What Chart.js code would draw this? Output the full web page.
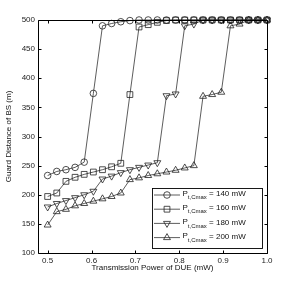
<!DOCTYPE html>
<html>
<head>
<meta charset="utf-8">
<script src="https://cdn.jsdelivr.net/npm/chart.js@4/dist/chart.umd.min.js"></script>
<style>
  html, body { margin: 0; padding: 0; background: #fff; }
  canvas { display: block; }
</style>
</head>
<body>
<canvas id="c" width="295" height="284"></canvas>
<script>
// ---- data ----
const xValues = [0.5000,0.5208,0.5417,0.5625,0.5833,0.6042,0.6250,0.6458,0.6667,0.6875,0.7083,0.7292,0.7500,
                 0.7708,0.7917,0.8125,0.8333,0.8542,0.8750,0.8958,0.9167,0.9375,0.9583,0.9792,1.0000];
const p140 = [233,240,243,247,256,374,490,494,497,499,500,500,500,500,500,500,500,500,500,500,500,500,500,500,500];
const p160 = [197,203,223,230,235,239,243,248,254,372,488,492,496,499,500,500,500,500,500,500,500,500,500,500,500];
const p180 = [179,185,190,195,200,206,227,232,238,243,247,251,255,370,373,490,493,500,500,500,500,500,500,500,500];
const p200 = [148,171,175,181,185,189,193,197,203,226,229,233,236,239,242,246,250,369,372,376,490,493,500,500,500];
const seriesValues = ['140 mW','160 mW','180 mW','200 mW'];
const xTicks = [0.5,0.6,0.7,0.8,0.9,1.0];
const yTicks = [100,150,200,250,300,350,400,450,500];
const xTitle = 'Transmission Power of DUE (mW)';
const yTitle = 'Guard Distance of BS (m)';

const FONT = "'Liberation Sans', Arial, Helvetica, sans-serif";
const styles = [
  {pointStyle:'circle', radius:3.3, rot:0},
  {pointStyle:'rect', radius:4.1, rot:0},
  {pointStyle:'triangle', radius:4.0, rot:180},
  {pointStyle:'triangle', radius:4.0, rot:0}
];
const allSeries = [p140, p160, p180, p200];

const datasets = allSeries.map((vals, i) => ({
  label: seriesValues[i],
  data: xValues.map((x, k) => ({x: x, y: vals[k]})),
  borderColor: '#333',
  borderWidth: 0.8,
  pointStyle: styles[i].pointStyle,
  pointRadius: styles[i].radius,
  pointRotation: styles[i].rot,
  pointBorderColor: '#222',
  pointBorderWidth: 0.8,
  pointBackgroundColor: 'rgba(0,0,0,0)',
  tension: 0,
  clip: false
}));

const framePlugin = {
  id: 'frame',
  afterDraw(chart) {
    const ctx = chart.ctx;
    const a = chart.chartArea;
    const xs = chart.scales.x, ys = chart.scales.y;
    ctx.save();
    ctx.strokeStyle = '#000';
    ctx.lineWidth = 1;
    const L = Math.round(a.left) + 0.5, R = Math.round(a.right) + 0.5;
    const T = Math.round(a.top) + 0.5, B = Math.round(a.bottom) + 0.5;
    ctx.beginPath();
    ctx.rect(L, T, R - L, B - T);
    ctx.stroke();
    const tl = 3;
    ctx.beginPath();
    xTicks.forEach(v => {
      const px = Math.round(xs.getPixelForValue(v)) + 0.5;
      ctx.moveTo(px, B); ctx.lineTo(px, B - tl);
      ctx.moveTo(px, T); ctx.lineTo(px, T + tl);
    });
    yTicks.forEach(v => {
      const py = Math.round(ys.getPixelForValue(v)) + 0.5;
      ctx.moveTo(L, py); ctx.lineTo(L + tl, py);
      ctx.moveTo(R, py); ctx.lineTo(R - tl, py);
    });
    ctx.stroke();

    // legend
    const bx = 152, by = 188, bw = 110, bh = 60;
    ctx.fillStyle = '#fff';
    ctx.fillRect(bx, by, bw, bh);
    ctx.lineWidth = 0.9;
    ctx.strokeStyle = '#000';
    ctx.strokeRect(bx + 0.5, by + 0.5, bw, bh);
    const rows = [195, 209.2, 223.4, 237.6];
    rows.forEach((ry, i) => {
      ctx.strokeStyle = '#333';
      ctx.lineWidth = 0.8;
      ctx.beginPath();
      ctx.moveTo(154, ry); ctx.lineTo(180, ry);
      ctx.stroke();
      const mx = 167, st = styles[i];
      ctx.strokeStyle = '#222';
      ctx.beginPath();
      if (st.pointStyle === 'circle') {
        ctx.arc(mx, ry, st.radius, 0, Math.PI * 2);
      } else if (st.pointStyle === 'rect') {
        const s = st.radius * Math.SQRT1_2;
        ctx.rect(mx - s, ry - s, 2 * s, 2 * s);
      } else {
        const r = st.radius, sgn = st.rot ? -1 : 1;
        ctx.moveTo(mx, ry - sgn * r);
        ctx.lineTo(mx - r * Math.sin(Math.PI / 3), ry + sgn * r * 0.5);
        ctx.lineTo(mx + r * Math.sin(Math.PI / 3), ry + sgn * r * 0.5);
        ctx.closePath();
      }
      ctx.stroke();
      ctx.fillStyle = '#111';
      ctx.textBaseline = 'middle';
      ctx.textAlign = 'left';
      ctx.font = '8px ' + FONT;
      let tx = 182.5;
      ctx.fillText('P', tx, ry - 1.5);
      tx += ctx.measureText('P').width;
      ctx.font = '6px ' + FONT;
      ctx.fillText('t,Cmax', tx, ry + 2.5);
      tx += ctx.measureText('t,Cmax').width;
      ctx.font = '8px ' + FONT;
      ctx.fillText(' = ' + seriesValues[i], tx, ry - 1);
    });
    ctx.restore();
  }
};

new Chart(document.getElementById('c'), {
  type: 'line',
  data: { datasets: datasets },
  options: {
    responsive: false,
    animation: false,
    devicePixelRatio: 1,
    layout: { padding: { top: 20, right: 28, left: 0, bottom: 0 } },
    plugins: { legend: { display: false }, tooltip: { enabled: false } },
    scales: {
      x: {
        type: 'linear',
        min: 0.478, max: 1.0,
        afterBuildTicks: s => { s.ticks = xTicks.map(v => ({value: v})); },
        afterFit: s => { s.height = 31; },
        grid: { display: false, drawTicks: false },
        border: { display: false },
        ticks: { padding: 3, color: '#222', font: { size: 8, family: FONT },
                 callback: v => Number(v).toFixed(1), maxRotation: 0, autoSkip: false },
        title: { display: true, text: xTitle, color: '#111', font: { size: 8, family: FONT },
                 padding: { top: 0, bottom: 11 } }
      },
      y: {
        type: 'linear',
        min: 100, max: 500,
        afterBuildTicks: s => { s.ticks = yTicks.map(v => ({value: v})); },
        afterFit: s => { s.width = 38; },
        grid: { display: false, drawTicks: false },
        border: { display: false },
        ticks: { padding: 3, color: '#222', font: { size: 8, family: FONT }, autoSkip: false },
        title: { display: true, text: yTitle, color: '#111', font: { size: 8, family: FONT },
                 padding: { top: 4, bottom: 4 } }
      }
    }
  },
  plugins: [framePlugin]
});
</script>
</body>
</html>
